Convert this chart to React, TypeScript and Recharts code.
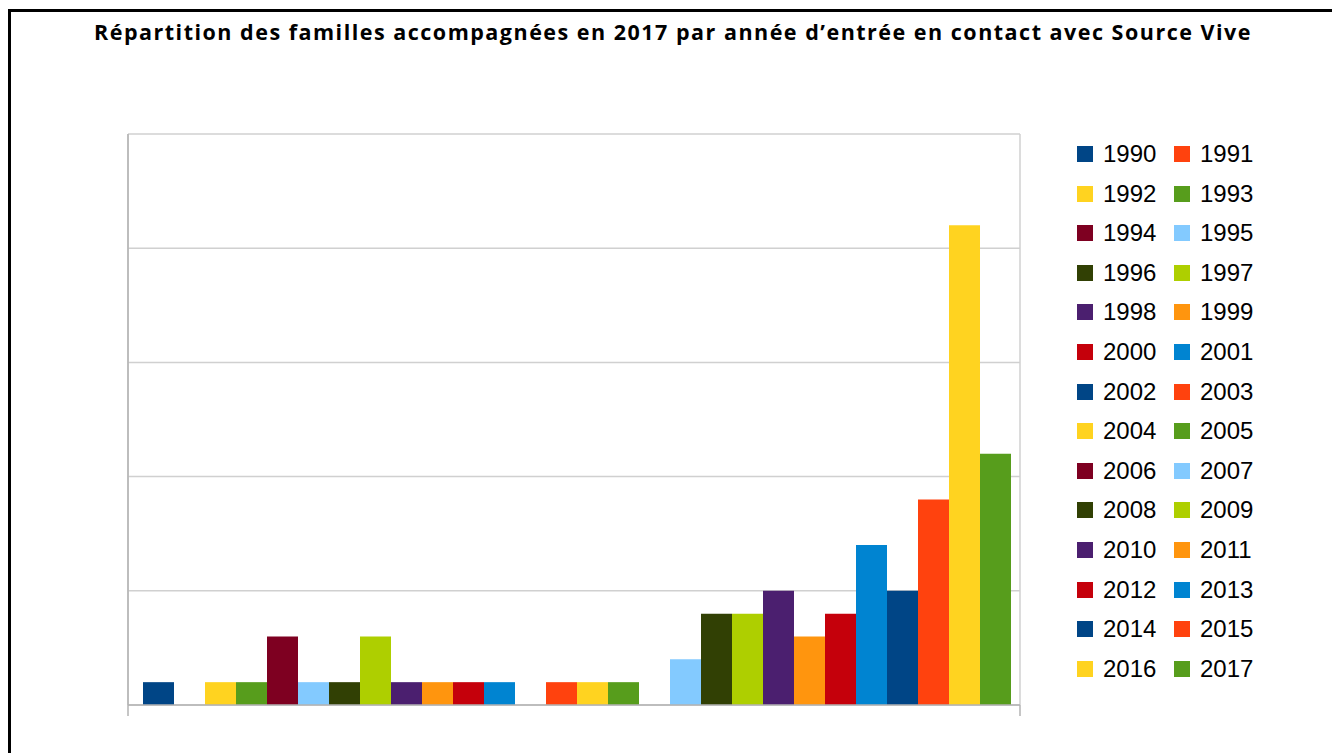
import React from "react";
import { BarChart, Bar, XAxis, YAxis, CartesianGrid } from "recharts";

const title = "Répartition des familles accompagnées en 2017 par année d’entrée en contact avec Source Vive";
const categories = ["2017"];
const seriesNames = [
  "1990", "1991", "1992", "1993", "1994", "1995", "1996", "1997", "1998", "1999",
  "2000", "2001", "2002", "2003", "2004", "2005", "2006", "2007", "2008", "2009",
  "2010", "2011", "2012", "2013", "2014", "2015", "2016", "2017",
];
const seriesValues = [
  1, 0, 1, 1, 3, 1, 1, 3, 1, 1,
  1, 1, 0, 1, 1, 1, 0, 2, 4, 4,
  5, 3, 4, 7, 5, 9, 21, 11,
];
const palette = [
  "#004586", "#ff420e", "#ffd320", "#579d1c", "#7e0021", "#83caff",
  "#314004", "#aecf00", "#4b1f6f", "#ff950e", "#c5000b", "#0084d1",
];
const yTicks = [0, 5, 10, 15, 20, 25];

const data = categories.map((c) => {
  const row: Record<string, string | number> = { name: c };
  seriesNames.forEach((s, i) => {
    row[s] = seriesValues[i];
  });
  return row;
});

const colorOf = (i: number) => palette[i % palette.length];

const EdgeTicks = (p: any) => {
  const half = (p.width || 0) / 2;
  const y = p.y;
  return (
    <g>
      <line x1={p.x - half} x2={p.x - half} y1={y} y2={y + 11} stroke="#b3b3b3" strokeWidth={1.5} />
      <line x1={p.x + half} x2={p.x + half} y1={y} y2={y + 11} stroke="#b3b3b3" strokeWidth={1.5} />
    </g>
  );
};

const NoTick = () => <g />;

export default function App() {
  return (
    <div style={{ position: "absolute", left: 0, top: 0, width: 1332, height: 753, background: "#fff", overflow: "hidden" }}>
      <div
        style={{
          position: "absolute",
          left: 8,
          top: 9,
          width: 1400,
          height: 800,
          borderLeft: "3px solid #000",
          borderTop: "3px solid #000",
          boxSizing: "border-box",
        }}
      />
      <div
        style={{
          position: "absolute",
          left: 0,
          top: 17,
          width: 1346,
          textAlign: "center",
          fontFamily: "'Open Sans', sans-serif",
          fontWeight: 700,
          fontSize: 21.5,
          letterSpacing: 1.5,
          lineHeight: "29px",
          color: "#000",
          whiteSpace: "nowrap",
        }}
      >
        {title}
      </div>
      <div style={{ position: "absolute", left: 0, top: 0 }}>
        <BarChart
          width={1332}
          height={753}
          data={data}
          margin={{ top: 134, left: 127, right: 312, bottom: 37 }}
          barCategoryGap={15}
          barGap={0}
        >
          <CartesianGrid
            horizontal={true}
            vertical={true}
            stroke="#d0d0d0"
            strokeWidth={1.5}
            verticalCoordinatesGenerator={({ offset }: any) => [offset.left, offset.left + offset.width]}
          />
          <XAxis
            dataKey="name"
            tick={EdgeTicks}
            tickLine={false}
            tickSize={0}
            tickMargin={0}
            axisLine={{ stroke: "#b3b3b3", strokeWidth: 1.5 }}
            height={11}
          />
          <YAxis
            domain={[0, 25]}
            ticks={yTicks}
            tick={NoTick}
            tickLine={false}
            axisLine={{ stroke: "#b3b3b3", strokeWidth: 1.5 }}
            width={1}
          />
          {seriesNames.map((s, i) => (
            <Bar
              key={s}
              dataKey={s}
              fill={colorOf(i)}
              isAnimationActive={false}
            />
          ))}
        </BarChart>
      </div>
      <div style={{ position: "absolute", left: 1077, top: 140 }}>
        {seriesNames.map((s, i) => {
          const col = i % 2;
          const row = Math.floor(i / 2);
          return (
            <div
              key={s}
              style={{
                position: "absolute",
                left: col * 97,
                top: row * 39.6,
                display: "flex",
                alignItems: "center",
                height: 28,
                whiteSpace: "nowrap",
              }}
            >
              <span style={{ display: "inline-block", width: 16, height: 16, background: colorOf(i), marginRight: 10 }} />
              <span style={{ fontFamily: "'Liberation Sans', Arial, sans-serif", fontSize: 24, color: "#000" }}>{s}</span>
            </div>
          );
        })}
      </div>
    </div>
  );
}
